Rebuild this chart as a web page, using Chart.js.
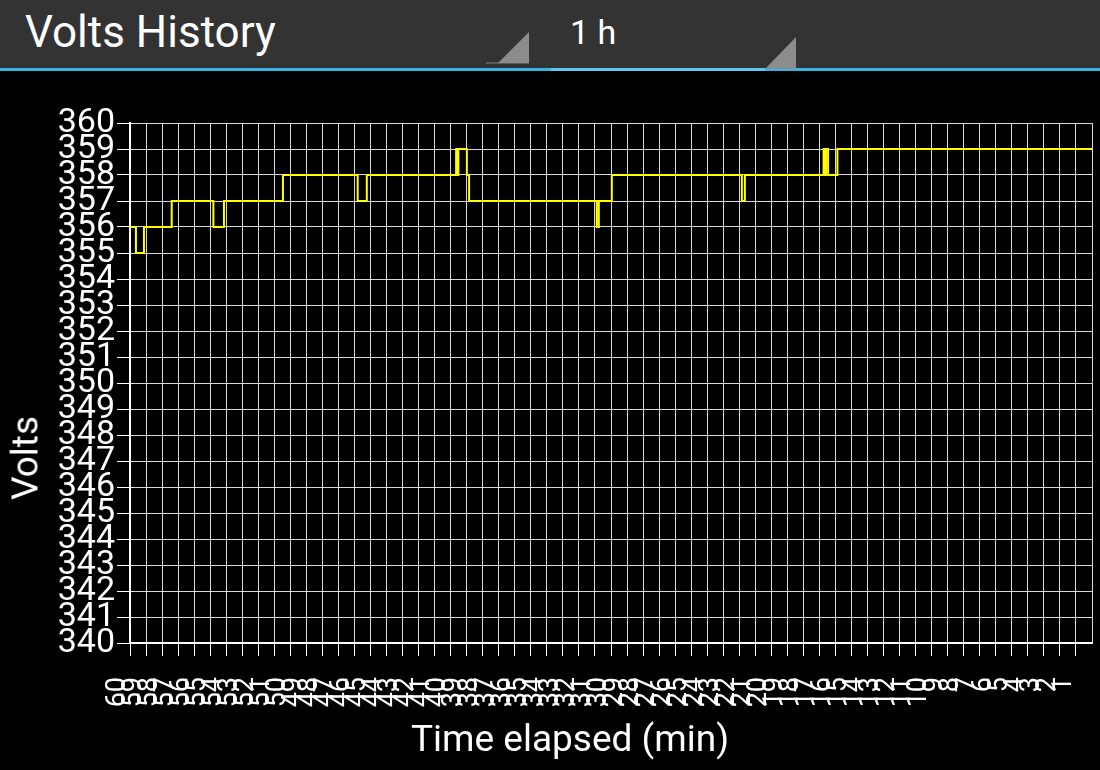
<!DOCTYPE html>
<html><head><meta charset="utf-8">
<script src="https://cdn.jsdelivr.net/npm/chart.js@4.4.1/dist/chart.umd.min.js"></script>
<style>
html,body{margin:0;padding:0;background:#000;width:1100px;height:770px;overflow:hidden;font-family:Roboto,sans-serif;}
#bar{position:absolute;left:0;top:0;width:1100px;height:68px;background:#333333;}
#blue{position:absolute;left:0;top:68px;width:1100px;height:3px;background:#33b5e5;}
#blue2{position:absolute;left:551px;top:68px;width:214px;height:3px;background:#5ec8ef;}
#title{position:absolute;left:25px;top:10px;font-size:44px;line-height:44px;color:#fff;white-space:nowrap;}
#range{position:absolute;left:570px;top:15px;font-size:34px;line-height:34px;color:#fff;white-space:nowrap;}
.tri{position:absolute;width:0;height:0;border-style:solid;border-color:transparent;border-width:0;}
#t1{left:498px;top:32px;border-left:31px solid transparent;border-bottom:31px solid #8c8c8c;}
#u1{position:absolute;left:486px;top:62px;width:43px;height:2px;background:#5a5a5a;}
#t2{left:765px;top:37px;border-left:31px solid transparent;border-bottom:32px solid #8c8c8c;z-index:3;}
#wrap{position:absolute;left:0;top:71px;width:1100px;height:699px;}
#ytitle{position:absolute;left:25px;top:458px;transform:translate(-50%,-50%) rotate(-90deg);font-size:37px;color:#fff;white-space:nowrap;}
#xtitle{position:absolute;left:570px;top:738px;transform:translate(-50%,-50%);font-size:37px;color:#fff;white-space:nowrap;}
</style></head>
<body>
<div id="bar"></div>
<div id="blue"></div><div id="blue2"></div>
<div id="title">Volts History</div>
<div id="range">1 h</div>
<div id="u1"></div>
<div class="tri" id="t1"></div>
<div class="tri" id="t2"></div>
<div id="wrap"><canvas id="c" width="1100" height="699"></canvas></div>
<div id="ytitle">Volts</div>
<div id="xtitle">Time elapsed (min)</div>
<script>
// minutes elapsed at which each reading starts (held until next reading)
const minutes = [60, 59.63, 59.13, 57.40, 54.80, 54.14, 50.46, 45.80, 45.23, 39.66, 39.58, 39.52, 38.99, 38.85, 30.89, 30.76, 29.95, 21.84, 21.65, 16.74, 16.65, 16.59, 16.46, 15.88, 0];
const volts   = [356, 355, 356, 357, 356, 357, 358, 357, 358, 359, 358, 359, 358, 357, 356, 357, 358, 357, 358, 359, 358, 359, 358, 359, 359];
const xTickValues = [60,59,58,57,56,55,54,53,52,51,50,49,48,47,46,45,44,43,42,41,40,39,38,37,36,35,34,33,32,31,30,29,28,27,26,25,24,23,22,21,20,19,18,17,16,15,14,13,12,11,10,9,8,7,6,5,4,3,2,1];
const yTickValues = [360,359,358,357,356,355,354,353,352,351,350,349,348,347,346,345,344,343,342,341,340];

const gridColor = '#d8d8d8';
new Chart(document.getElementById('c'), {
  type: 'line',
  data: {
    datasets: [{
      data: minutes.map((m, i) => ({x: m, y: volts[i]})),
      borderColor: '#ffff00',
      borderWidth: 2,
      stepped: true,
      pointRadius: 0,
      fill: false
    }]
  },
  options: {
    responsive: false,
    animation: false,
    devicePixelRatio: 1,
    layout: {padding: {top: 52, right: 8, left: 0, bottom: 0}},
    plugins: {legend: {display: false}, tooltip: {enabled: false}},
    scales: {
      x: {
        type: 'linear', reverse: true, min: 0, max: 60,
        afterBuildTicks: s => { s.ticks = xTickValues.concat([0]).map(v => ({value: v})); },
        afterFit: s => { s.height = 127; s.paddingLeft = 0; s.paddingRight = 0; },
        ticks: {
          autoSkip: false, minRotation: 90, maxRotation: 90,
          color: '#fff', font: {family: 'Roboto', size: 27},
          padding: 21, labelOffset: -12,
          callback: v => xTickValues.includes(v) ? String(v) : ''
        },
        grid: {
          color: gridColor, lineWidth: 1, tickLength: 13,
          tickColor: c => (c.tick && c.tick.value === 0) ? 'rgba(0,0,0,0)' : '#ffffff'
        },
        border: {color: '#ffffff', width: 2}
      },
      y: {
        min: 340, max: 360,
        afterBuildTicks: s => { s.ticks = yTickValues.map(v => ({value: v})); },
        afterFit: s => { s.width = 130; s.paddingTop = 0; s.paddingBottom = 0; },
        ticks: {autoSkip: false, color: '#fff', font: {family: 'Roboto', size: 34}, padding: 2},
        grid: {color: gridColor, lineWidth: 1, tickLength: 13, tickColor: '#ffffff'},
        border: {color: '#ffffff', width: 2}
      }
    }
  }
});
</script>
</body></html>
